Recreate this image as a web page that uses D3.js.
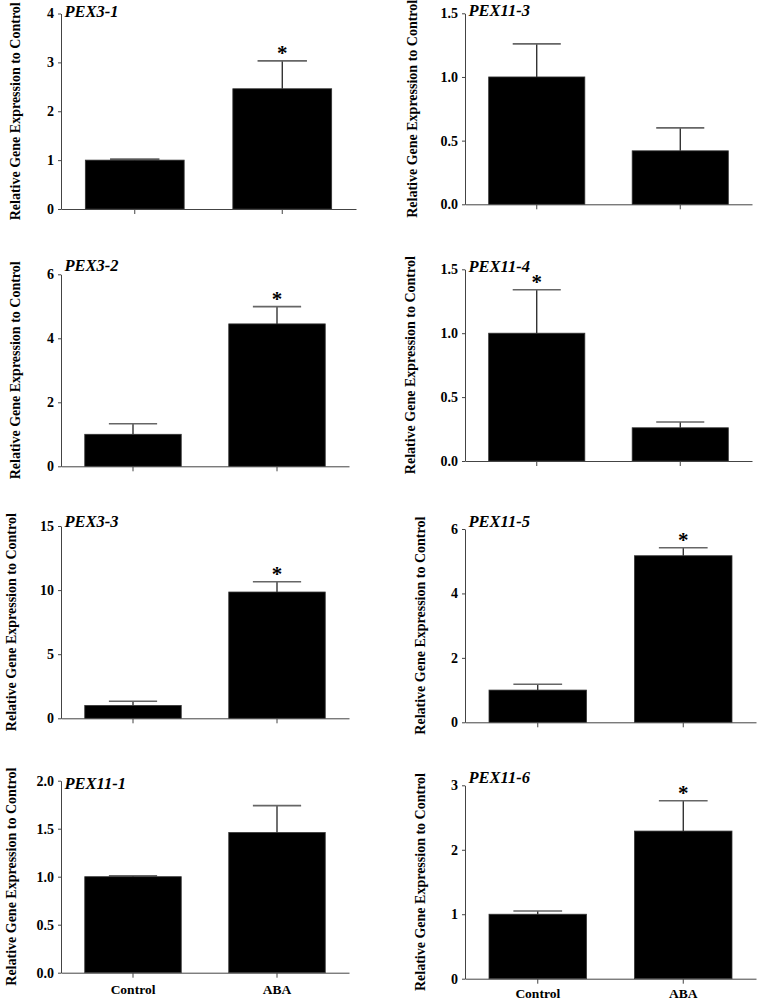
<!DOCTYPE html>
<html>
<head>
<meta charset="utf-8">
<script src="https://cdn.jsdelivr.net/npm/d3@7"></script>
<style>
  html, body { margin: 0; padding: 0; background: #fff; }
  svg { display: block; }
  svg text { font-family: "Liberation Serif", "Times New Roman", serif; }
</style>
</head>
<body>
<svg id="chart" width="758" height="1000"></svg>
<script>
// ---- Data ----
const categories = ["Control", "ABA"];
const genes = ["PEX3-1", "PEX11-3", "PEX3-2", "PEX11-4", "PEX3-3", "PEX11-5", "PEX11-1", "PEX11-6"];
const controlMeans = [1.0, 1.0, 1.0, 1.0, 1.0, 1.0, 1.0, 1.0];
const controlErr   = [0.02, 0.26, 0.33, 0.34, 0.33, 0.18, 0.01, 0.05];
const abaMeans     = [2.46, 0.42, 4.45, 0.26, 9.85, 5.17, 1.46, 2.29];
const abaErr       = [0.57, 0.18, 0.54, 0.045, 0.80, 0.25, 0.28, 0.47];
const controlSig   = [false, false, false, true, false, false, false, false];
const abaSig       = [true, false, true, false, true, true, false, true];
const yMax         = [4, 1.5, 6, 1.5, 15, 6, 2, 3];
const yStep        = [1, 0.5, 2, 0.5, 5, 2, 0.5, 1];
const yDecimals    = [0, 1, 0, 1, 0, 0, 1, 0];
const yLabel = "Relative Gene Expression to Control";

// ---- Layout (pixel geometry of each panel) ----
const layout = [
  {x0: 61,  x1: 356, yT: 13.5,  yB: 209,   labX: 15,  tDy: 3.5,  showX: false, xPad: 7},
  {x0: 465, x1: 752, yT: 13.3,  yB: 204.3, labX: 412, tDy: 3,    showX: false, xPad: 7},
  {x0: 61,  x1: 349, yT: 274.3, yB: 466.3, labX: 15,  tDy: -3.5, showX: false, xPad: 7},
  {x0: 465, x1: 752, yT: 269.3, yB: 461,   labX: 410, tDy: 2.4,  showX: false, xPad: 7},
  {x0: 61,  x1: 349, yT: 526,   yB: 718.3, labX: 11,  tDy: 0.7,  showX: false, xPad: 7},
  {x0: 465, x1: 756, yT: 529,   yB: 722.3, labX: 420, tDy: -2.3, showX: false, xPad: 7},
  {x0: 61,  x1: 349, yT: 780.7, yB: 972.7, labX: 11,  tDy: 8.6,  showX: true,  xPad: 7},
  {x0: 465, x1: 756, yT: 785.3, yB: 978.7, labX: 420, tDy: -2,   showX: true,  xPad: 4.5}
];

const FONT = "Liberation Serif";
const svg = d3.select("#chart");

genes.forEach((gene, i) => {
  const L = layout[i];
  const g = svg.append("g");

  const x = d3.scaleBand().domain(categories).range([L.x0, L.x1])
    .paddingInner(0.33).paddingOuter(0.165);
  const y = d3.scaleLinear().domain([0, yMax[i]]).range([L.yB, L.yT]);

  const values = [
    {cat: "Control", v: controlMeans[i], e: controlErr[i], sig: controlSig[i]},
    {cat: "ABA", v: abaMeans[i], e: abaErr[i], sig: abaSig[i]}
  ];

  // error bars (upper only)
  const cap = x.bandwidth() / 2;
  values.forEach(d => {
    const cx = x(d.cat) + x.bandwidth() / 2;
    g.append("line")
      .attr("x1", cx).attr("x2", cx)
      .attr("y1", y(d.v)).attr("y2", y(d.v + d.e))
      .attr("stroke", "#111").attr("stroke-width", 1.2);
    g.append("line")
      .attr("x1", cx - cap / 2).attr("x2", cx + cap / 2)
      .attr("y1", y(d.v + d.e)).attr("y2", y(d.v + d.e))
      .attr("stroke", "#666").attr("stroke-width", 1.6);
    if (d.sig) {
      g.append("text")
        .attr("x", cx).attr("y", y(d.v + d.e) - 0.5)
        .attr("text-anchor", "middle")
        .attr("font-family", FONT)
        .attr("font-size", 21).attr("font-weight", "bold")
        .text("*");
    }
  });

  // bars
  g.selectAll("rect.bar").data(values).join("rect")
    .attr("class", "bar")
    .attr("x", d => x(d.cat))
    .attr("width", x.bandwidth())
    .attr("y", d => y(d.v))
    .attr("height", d => y(0) - y(d.v))
    .attr("fill", "#000")
    .attr("stroke", "#333").attr("stroke-width", 0.8);

  // y axis
  const ticks = d3.range(0, yMax[i] + yStep[i] / 2, yStep[i]);
  const yAxis = g.append("g")
    .attr("transform", `translate(${L.x0},0)`)
    .call(d3.axisLeft(y).tickValues(ticks).tickSize(3).tickSizeOuter(0).tickPadding(4)
      .tickFormat(d3.format(`.${yDecimals[i]}f`)));
  yAxis.attr("font-family", FONT);
  yAxis.select(".domain").attr("stroke", "#444");
  yAxis.selectAll(".tick line").attr("stroke", "#444");
  yAxis.selectAll("text").attr("font-family", FONT).attr("font-weight", "bold")
    .attr("font-size", 14).attr("fill", "#000");

  // x axis
  const xAxis = g.append("g")
    .attr("transform", `translate(0,${L.yB})`)
    .call(d3.axisBottom(x).tickSize(5).tickSizeOuter(0).tickPadding(L.xPad)
      .tickFormat(d => L.showX ? d : ""));
  xAxis.attr("font-family", FONT);
  xAxis.select(".domain").attr("stroke", "#444");
  xAxis.selectAll(".tick line").attr("stroke", "#444");
  xAxis.selectAll("text").attr("font-family", FONT).attr("font-weight", "bold")
    .attr("font-size", 13.5).attr("fill", "#000");

  // title
  g.append("text")
    .attr("x", L.x0 + 3.5).attr("y", L.yT + L.tDy)
    .attr("font-family", FONT)
    .attr("font-size", 16.5).attr("font-weight", "bold").attr("font-style", "italic")
    .text(gene);

  // y label
  const cy = (L.yT + L.yB) / 2;
  g.append("text")
    .attr("transform", `translate(${L.labX},${cy}) rotate(-90)`)
    .attr("text-anchor", "middle").attr("dy", "0.35em")
    .attr("font-family", FONT)
    .attr("font-size", 14).attr("font-weight", "bold")
    .text(yLabel);
});
</script>
</body>
</html>
